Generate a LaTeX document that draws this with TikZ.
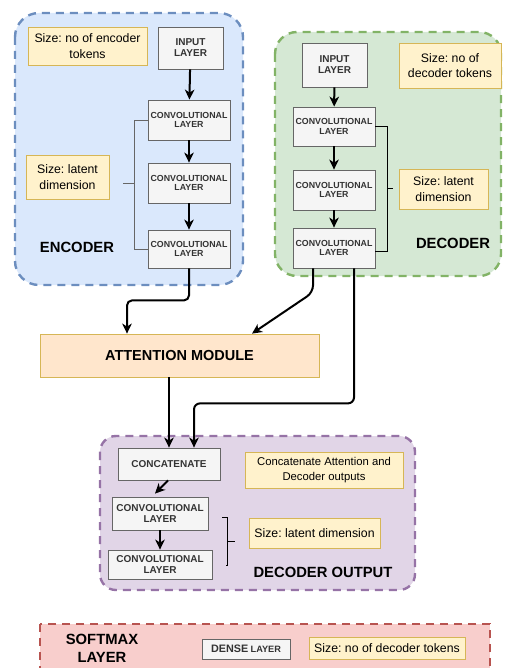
\documentclass[tikz,border=0pt]{standalone}
\usepackage{fontspec}
\setmainfont{Liberation Sans}
\usetikzlibrary{arrows.meta,calc}
\frenchspacing

\definecolor{encfill}{HTML}{DAE8FC}\definecolor{encline}{HTML}{6C8EBF}
\definecolor{decfill}{HTML}{D5E8D4}\definecolor{decline}{HTML}{82B366}
\definecolor{outfill}{HTML}{E1D5E7}\definecolor{outline}{HTML}{9673A6}
\definecolor{smfill}{HTML}{F8CECC}\definecolor{smline}{HTML}{B85450}
\definecolor{attfill}{HTML}{FFE6CC}\definecolor{attline}{HTML}{D6B656}
\definecolor{notefill}{HTML}{FFF2CC}\definecolor{noteline}{HTML}{D6B656}
\definecolor{layfill}{HTML}{F5F5F5}\definecolor{layline}{HTML}{666666}
\definecolor{laytext}{HTML}{333333}

\tikzset{
  group/.style={line width=2.4pt, dash pattern=on 8pt off 6pt},
  layer/.style={draw=layline, fill=layfill, line width=0.8pt, text=laytext,
    align=center, inner sep=0pt, font=\bfseries\fontsize{8.8}{9.6}\selectfont},
  bigtext/.style={font=\bfseries\fontsize{10}{11}\selectfont},
  note/.style={draw=noteline, fill=notefill, line width=0.8pt, align=center,
    inner sep=0pt, font=\fontsize{12.3}{15.5}\selectfont},
  title/.style={align=center, inner sep=0pt, font=\bfseries\fontsize{14.8}{18}\selectfont},
  arr/.style={line width=2pt, -{Stealth[length=10pt,width=9.5pt,inset=3pt]}},
  brace/.style={line width=0.9pt},
}

\begin{document}
\begin{tikzpicture}[x=1pt,y=-1pt]
\useasboundingbox (0,0) rectangle (505,668);

% ---------- group frames ----------
\draw[group, draw=encline, fill=encfill, rounded corners=24] (15,13) rectangle (243,285);
\draw[group, draw=decline, fill=decfill, rounded corners=22] (275,32) rectangle (501,276);
\draw[group, draw=outline, fill=outfill, rounded corners=16] (100,436) rectangle (415,590);
\draw[group, draw=smline, fill=smfill] (40,624) rectangle (490,700);

% ---------- encoder ----------
\node[note, minimum width=119, minimum height=38] (enote) at (87.5,46) {Size: no of encoder\\tokens};
\node[layer, bigtext, minimum width=65, minimum height=42] (ein) at (190.5,48) {INPUT\\LAYER};
\node[layer, minimum width=82, minimum height=40] (ec1) at (189,120) {CONVOLUTIONAL\\LAYER};
\node[layer, minimum width=82, minimum height=40] (ec2) at (189,183) {CONVOLUTIONAL\\LAYER};
\node[layer, minimum width=82, minimum height=38] (ec3) at (189,249) {CONVOLUTIONAL\\LAYER};
\node[note, minimum width=83, minimum height=44] (elat) at (67.5,177) {Size: latent\\dimension};
\node[title] (etitle) at (77,247) {ENCODER};

\draw[brace, draw=layline] (ec1.west) -- ++(-13,0) |- (ec3.west);
\draw[brace, draw=layline] ($(ec2.west)+(-13,0)$) -- ++(-12,0);

\draw[arr] (ein) -- (ec1);
\draw[arr] (ec1) -- (ec2);
\draw[arr] (ec2) -- (ec3);

% ---------- decoder ----------
\node[layer, bigtext, minimum width=65, minimum height=44] (din) at (334.5,65) {INPUT\\LAYER};
\node[layer, minimum width=82, minimum height=39] (dc1) at (334,126.5) {CONVOLUTIONAL\\LAYER};
\node[layer, minimum width=82, minimum height=40] (dc2) at (334,190) {CONVOLUTIONAL\\LAYER};
\node[layer, minimum width=82, minimum height=40] (dc3) at (334,248) {CONVOLUTIONAL\\LAYER};
\node[note, minimum width=102, minimum height=45] (dnote) at (450,65.5) {Size: no of\\decoder tokens};
\node[note, minimum width=89, minimum height=40] (dlat) at (443.5,189) {Size: latent\\dimension};
\node[title] (dtitle) at (453,243) {DECODER};

\draw[brace] (dc1.east) -- ++(12,0) |- ($(dc3.east)+(0,3)$);
\draw[brace] ($(dc2.east)+(12,-2)$) -- ++(6,0);

\draw[arr] (din) -- (dc1);
\draw[arr] (dc1) -- (dc2);
\draw[arr] (dc2) -- (dc3);

% ---------- attention ----------
\node[draw=attline, fill=attfill, line width=0.8pt, minimum width=279, minimum height=43,
      font=\bfseries\fontsize{14.5}{17}\selectfont] (att) at (179.5,355.5) {ATTENTION MODULE};

% ---------- decoder output ----------
\node[layer, bigtext, minimum width=102, minimum height=32] (cat) at (169,464) {CONCATENATE};
\node[note, minimum width=158, minimum height=36, font=\fontsize{11.3}{14.5}\selectfont]
      (cnote) at (324,470) {Concatenate Attention and\\Decoder outputs};
\node[layer, bigtext, minimum width=96, minimum height=33] (oc1) at (160,513.5) {CONVOLUTIONAL\\LAYER};
\node[layer, bigtext, minimum width=104, minimum height=29] (oc2) at (160,564.5) {CONVOLUTIONAL\\LAYER};
\node[note, minimum width=131, minimum height=30] (olat) at (314.5,533) {Size: latent dimension};
\node[title] (otitle) at (323,572) {DECODER OUTPUT};

\draw[brace] ($(oc1.east)+(14,3.5)$) -- ++(5,0) |- ($(oc2.east)+(14,0.5)$);
\draw[brace] ($(oc1.east)+(19,27.5)$) -- ++(8,0);

\draw[arr] ($(cat.south)+(-1,0)$) -- ($(oc1.north)+(-5,-3)$);
\draw[arr] (oc1) -- (oc2);

% ---------- softmax ----------
\node[title] (stitle) at (102,648) {SOFTMAX\\LAYER};
\node[layer, minimum width=88, minimum height=20] (dense) at (246,649)
      {{\fontsize{10.8}{12}\selectfont DENSE} {\fontsize{9.2}{12}\selectfont LAYER}};
\node[note, minimum width=156, minimum height=22] (snote) at (387,648) {Size: no of decoder tokens};

% ---------- connectors between groups ----------
\draw[arr, rounded corners=5] (ec3.south) -- ++(0,32) -| ($(att.north)+(-52.5,0)$);
\draw[arr, rounded corners=7] ($(dc3.south)+(-21,0)$) -- ++(0,24) -- ($(att.north)+(72.5,0)$);
\draw[arr, rounded corners=6] ($(dc3.south)+(20,0)$) -- ++(0,135) -| ($(cat.north)+(25,0)$);
\draw[arr] (cat.north |- att.south) -- (cat.north);

\end{tikzpicture}
\end{document}
